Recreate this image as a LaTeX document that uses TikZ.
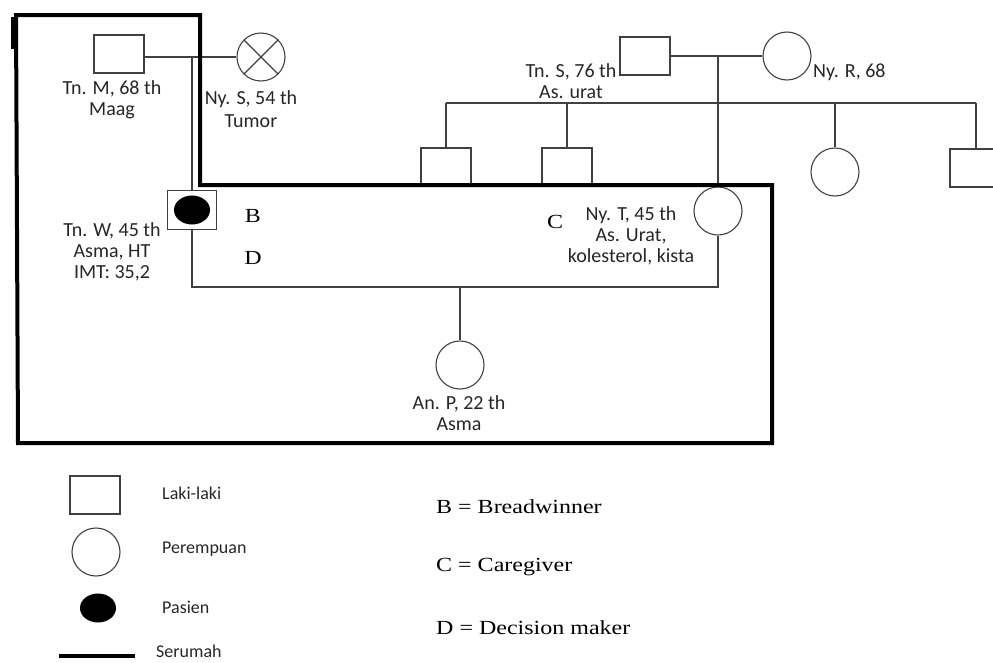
\documentclass[tikz,border=0pt]{standalone}
\usepackage{fontspec}
\setmainfont{Liberation Serif}
\newfontfamily\lblfont{Carlito}
\newfontfamily\keyfont[FakeStretch=1.2]{Liberation Serif}
\usetikzlibrary{shapes.geometric}

\tikzset{
  kin/.style={draw=black!75,line width=1.1pt},
  male/.style={kin,rectangle,minimum width=50pt,minimum height=38pt,inner sep=0pt},
  female/.style={kin,circle,minimum size=48pt,inner sep=0pt},
  sick/.style={ellipse,fill=black,minimum width=36pt,minimum height=29pt,inner sep=0pt},
  house/.style={line width=4pt,line join=miter},
  lbl/.style={align=center,text=black!85,inner sep=0pt,font=\lblfont\fontsize{20}{21}\selectfont},
  keylbl/.style={lbl,font=\lblfont\fontsize{18}{21}\selectfont},
  role/.style={inner sep=0pt,font=\keyfont\fontsize{20}{24}\selectfont}
}

\begin{document}
\begin{tikzpicture}[x=1pt,y=-1pt]
  \useasboundingbox (0,0) rectangle (993,662);
  % left grandparents
  \node[male] (tnM) at (119,54) {};
  \node[female] (nyS) at (261,57) {};
  \draw[kin] (nyS.north west)--(nyS.south east) (nyS.north east)--(nyS.south west);
  \node[male,minimum width=49pt,minimum height=39pt] (tnW) at (192,210) {};
  \node[sick] (pW) at (tnW) {};
  \draw[kin] (tnM.east |- nyS.west) -- (nyS.west);
  \draw[kin] (tnW.north |- nyS.west) -- (tnW.north);
  % right grandparents and siblings
  \node[male] (tnS) at (645,56) {};
  \node[female] (nyR) at (787,56) {};
  \node[male] (sib1) at (446,167) {};
  \node[male] (sib2) at (567,167) {};
  \node[female] (sib3) at (835,172) {};
  \node[male] (sib4) at (975,168) {};
  \node[female] (nyT) at (718,211) {};
  \node[female] (anP) at (460,365) {};
  \coordinate (sibL) at (446,103);
  \coordinate (sibR) at (976,103);
  \coordinate (fam) at (460,287);
  \draw[kin] (tnS.east |- nyR.west) -- (nyR.west);
  \draw[kin] (nyT.north |- nyR.west) -- (nyT.north);
  \draw[kin] (sibL) -- (sibR);
  \foreach \s in {sib1,sib2,sib3}
    \draw[kin] (\s.north) -- (\s.north |- sibL);
  \draw[kin] (sibR) -- (sib4.north -| sibR);
  \draw[kin] (tnW.south) |- (fam) -| (nyT.south);
  \draw[kin] (fam) -- (anP.north);
  % household
  \draw[house] (16,15) -- (200,15) -- (200,185) -- (772,185) -- (772,443) -- (18,443) -- cycle;
  \draw[house] (13,17) -- (13,49);
  % labels
  \node[lbl] (lM) at (112,100) {Tn. M, 68 th\\Maag};
  \node[lbl] (lS) at (251,109) {Ny. S, 54 th\\[2pt]Tumor};
  \node[lbl] (lW) at (112,252) {Tn. W, 45 th\\Asma, HT\\IMT: 35,2};
  \node[lbl] (lTS) at (571,81) {Tn. S, 76 th\\As. urat};
  \node[lbl,anchor=west] (lR) at (813,72) {Ny. R, 68};
  \node[lbl] (lT) at (631,236) {Ny. T, 45 th\\As. Urat,\\kolesterol, kista};
  \node[lbl] (lP) at (459,413) {An. P, 22 th\\Asma};
  \node[role] (rB) at (253,216) {B};
  \node[role] (rD) at (253,258) {D};
  \node[role] (rC) at (555,222) {C};
  % legend
  \node[male] (kM) at (95,495) {};
  \node[female] (kF) at (96,552) {};
  \node[sick] (kP) at (98,608) {};
  \coordinate (kH1) at (59,656);
  \coordinate (kH2) at (135,656);
  \draw[house] (kH1) -- (kH2);
  \node[keylbl,anchor=west] (tM) at (162,493) {Laki-laki};
  \node[keylbl,anchor=west] (tF) at (162,549) {Perempuan};
  \node[keylbl,anchor=west] (tP) at (162,607) {Pasien};
  \node[keylbl,anchor=west] (tH) at (156,651) {Serumah};
  \node[role,anchor=west] (kB) at (436,507) {B = Breadwinner};
  \node[role,anchor=west] (kC) at (436,567) {C = Caregiver};
  \node[role,anchor=west] (kD) at (436,628) {D = Decision maker};
\end{tikzpicture}
\end{document}
